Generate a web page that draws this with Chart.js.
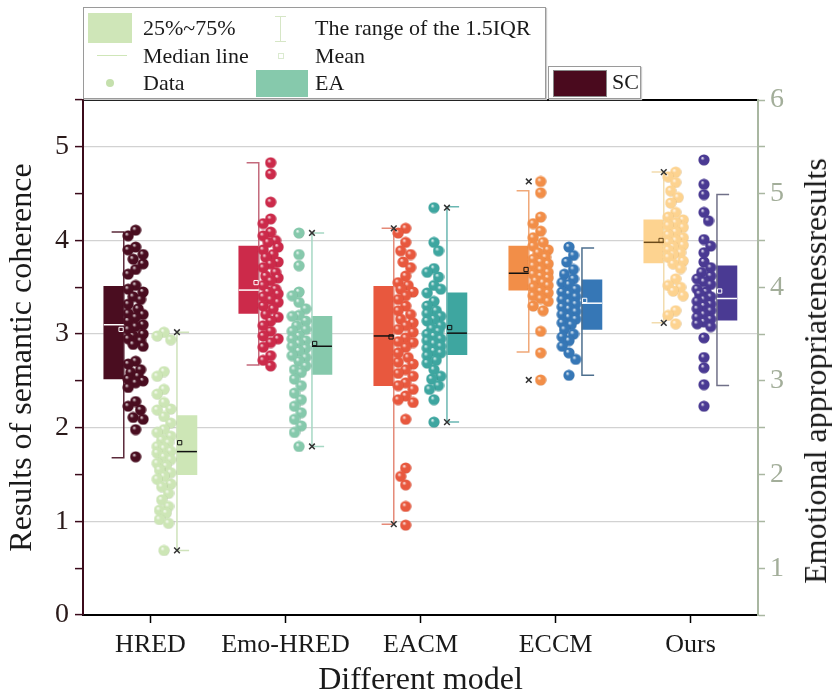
<!DOCTYPE html>
<html><head><meta charset="utf-8">
<script src="https://cdn.jsdelivr.net/npm/chart.js@4.4.0/dist/chart.umd.min.js"></script>
<style>
body{margin:0;background:#fff;}
#wrap{position:relative;width:832px;height:697px;font-family:"Liberation Serif","Times New Roman",serif;overflow:hidden;}
#c{position:absolute;left:0;top:0;}
.t{position:absolute;font-size:22px;color:#1a1a1a;line-height:22px;white-space:nowrap;}
.box{position:absolute;border:1px solid #9a9a9a;background:#fff;box-shadow:1px 1px 1px #ccc;}
.sw{position:absolute;}
</style></head>
<body><div id="wrap">
<canvas id="c" width="832" height="697"></canvas>
<div class="box" style="left:83px;top:7px;width:461px;height:90px;"></div>
<div class="sw" style="left:88px;top:13px;width:44px;height:30px;background:#cfe6b8;"></div>
<div class="t" style="left:143px;top:17px;">25%~75%</div>
<div class="sw" style="left:280px;top:16px;width:1px;height:26px;background:#d6e6c6;"></div>
<div class="sw" style="left:275px;top:16px;width:11px;height:1px;background:#d6e6c6;"></div>
<div class="sw" style="left:275px;top:41px;width:11px;height:1px;background:#d6e6c6;"></div>
<div class="t" style="left:315px;top:17px;">The range of the 1.5IQR</div>
<div class="sw" style="left:97px;top:55px;width:30px;height:1px;background:#cfe6b8;"></div>
<div class="t" style="left:143px;top:45px;">Median line</div>
<div class="sw" style="left:278px;top:53px;width:4px;height:4px;border:1px solid #dbead0;"></div>
<div class="t" style="left:315px;top:45px;">Mean</div>
<div class="sw" style="left:106px;top:79px;width:8px;height:8px;border-radius:50%;background:#c5e0ad;"></div>
<div class="t" style="left:143px;top:72px;">Data</div>
<div class="sw" style="left:256px;top:70px;width:52px;height:27px;background:#86c9ac;"></div>
<div class="t" style="left:315px;top:72px;">EA</div>
<div class="box" style="left:548px;top:66px;width:91px;height:31px;"></div>
<div class="sw" style="left:553px;top:70px;width:52px;height:25px;background:#4a0a1e;border:1px solid #888;"></div>
<div class="t" style="left:612px;top:71px;">SC</div>
<div class="t" id="rtitle" style="left:815px;top:371px;font-size:32px;line-height:32px;transform:translate(-50%,-50%) rotate(-90deg);">Emotional appropriatenessresults</div>
</div>
<script>
// ---------- data ----------
const categories = ['HRED', 'Emo-HRED', 'EACM', 'ECCM', 'Ours'];

// semantic coherence (left axis) box statistics
const scQ1     = [2.52, 3.22, 2.45, 3.47, 3.76];
const scMedian = [3.10, 3.47, 2.98, 3.65, 3.98];
const scQ3     = [3.51, 3.94, 3.51, 3.94, 4.22];
const scLow    = [1.68, 2.67, 0.97, 2.81, 3.12];
const scHigh   = [4.09, 4.83, 4.13, 4.53, 4.73];
const scMean   = [3.05, 3.55, 2.97, 3.69, 4.00];
const scMinMark = [null, null, 0.97, 2.51, 3.12];
const scMaxMark = [null, null, 4.13, 4.63, 4.73];

// emotional appropriateness (right axis) box statistics
const eaQ1     = [2.00, 3.07, 3.28, 3.55, 3.65];
const eaMedian = [2.245, 3.37, 3.51, 3.83, 3.88];
const eaQ3     = [2.63, 3.69, 3.94, 4.08, 4.23];
const eaLow    = [1.19, 2.30, 2.56, 3.06, 2.95];
const eaHigh   = [3.52, 4.58, 4.86, 4.42, 4.99];
const eaMean   = [2.34, 3.40, 3.57, 3.86, 3.96];
const eaMinMark = [1.19, 2.30, 2.56, null, null];
const eaMaxMark = [3.52, 4.58, 4.85, null, null];

// raw data points
const scHRED = [4.11,4.05,3.93,3.90,3.85,3.80,3.75,3.69,3.64,3.52,3.48,3.45,3.40,3.37,3.32,3.27,3.22,3.21,3.18,3.14,3.10,3.08,3.05,3.00,2.98,2.95,2.93,2.89,2.87,2.71,2.68,2.62,2.59,2.55,2.52,2.50,2.48,2.43,2.28,2.23,2.19,2.11,2.09,1.98,1.69];
const scEmo  = [4.83,4.71,4.41,4.23,4.18,4.09,4.05,4.00,3.98,3.93,3.90,3.85,3.82,3.77,3.75,3.71,3.66,3.62,3.60,3.57,3.52,3.48,3.45,3.43,3.40,3.37,3.34,3.30,3.27,3.21,3.18,3.14,3.09,3.03,2.98,2.95,2.91,2.86,2.77,2.72,2.66];
const scEACM = [4.13,4.08,3.98,3.89,3.85,3.77,3.71,3.62,3.55,3.52,3.48,3.45,3.41,3.37,3.30,3.25,3.21,3.16,3.12,3.09,3.05,3.02,2.96,2.92,2.91,2.86,2.80,2.75,2.70,2.68,2.62,2.58,2.55,2.48,2.45,2.41,2.34,2.30,2.27,2.09,1.57,1.48,1.39,1.16,0.96];
const scECCM = [4.63,4.51,4.25,4.18,4.10,4.03,3.98,3.94,3.90,3.87,3.82,3.80,3.77,3.75,3.73,3.69,3.66,3.64,3.62,3.60,3.57,3.55,3.52,3.50,3.46,3.44,3.41,3.38,3.35,3.30,3.25,3.03,2.80,2.51];
const scOurs = [4.73,4.68,4.62,4.53,4.46,4.40,4.30,4.25,4.22,4.19,4.16,4.14,4.09,4.06,4.03,4.00,3.98,3.95,3.93,3.90,3.87,3.85,3.82,3.78,3.75,3.70,3.59,3.52,3.50,3.46,3.41,3.25,3.20,3.11];

const eaHRED = [3.52,3.48,3.44,3.10,3.05,2.91,2.86,2.77,2.70,2.69,2.62,2.55,2.48,2.45,2.41,2.37,2.34,2.30,2.28,2.25,2.23,2.19,2.16,2.12,2.09,2.05,2.02,1.98,1.95,1.90,1.87,1.80,1.73,1.66,1.62,1.59,1.52,1.48,1.19];
const eaEmo  = [4.58,4.35,4.23,3.95,3.91,3.84,3.77,3.70,3.69,3.64,3.59,3.55,3.53,3.48,3.45,3.43,3.40,3.37,3.35,3.32,3.27,3.25,3.21,3.16,3.12,3.09,3.02,2.95,2.87,2.80,2.73,2.66,2.59,2.52,2.45,2.30];
const eaEACM = [4.85,4.48,4.39,4.20,4.16,4.11,4.02,3.98,3.94,3.85,3.80,3.75,3.72,3.69,3.66,3.64,3.59,3.56,3.53,3.50,3.48,3.45,3.43,3.40,3.37,3.35,3.32,3.30,3.27,3.22,3.19,3.12,3.05,3.02,2.95,2.91,2.80,2.56];
const eaECCM = [4.43,4.34,4.27,4.19,4.14,4.09,4.05,4.03,3.98,3.95,3.93,3.90,3.87,3.84,3.82,3.79,3.77,3.74,3.71,3.68,3.66,3.62,3.60,3.55,3.50,3.47,3.43,3.37,3.30,3.23,3.06];
const eaOurs = [5.36,5.10,4.99,4.80,4.71,4.51,4.44,4.37,4.27,4.21,4.16,4.12,4.09,4.06,4.03,3.98,3.95,3.93,3.90,3.87,3.85,3.82,3.80,3.77,3.75,3.71,3.68,3.66,3.63,3.61,3.58,3.46,3.25,3.14,2.96,2.73];

const scPoints = [scHRED, scEmo, scEACM, scECCM, scOurs];
const eaPoints = [eaHRED, eaEmo, eaEACM, eaECCM, eaOurs];

// ---------- styles ----------
const scColors = ['#4a0d20', '#cc2a4a', '#e8583e', '#f28e48', '#fdd390'];
const eaColors = ['#cde6b6', '#86c9ac', '#3ea6a0', '#3677b6', '#4a3a93'];
const scWhisk  = ['#5b2a3a', '#c46a7c', '#e58a78', '#f0a878', '#f2dcae'];
const eaWhisk  = ['#cfe3bb', '#a6d8c4', '#6ab7b2', '#4d6f8e', '#707088'];
const scMedCol = ['#ffffff', '#ffffff', '#111111', '#111111', '#6b4a1a'];
const eaMedCol = ['#111111', '#111111', '#111111', '#ffffff', '#ffffff'];
const SC_BOX = -0.272, EA_BOX = 0.27, HALF_BOX = 0.074, CAP = 0.09;
const SC_WH = SC_BOX + HALF_BOX, EA_WH = EA_BOX - HALF_BOX;
const FONT = '"Liberation Serif", "Times New Roman", serif';

function hexRgb(h){h=h.replace('#','');return [0,2,4].map(i=>parseInt(h.substr(i,2),16));}
function mix(h, t, f){const a=hexRgb(h);return 'rgb('+a.map(v=>Math.round(v+(t-v)*f)).join(',')+')';}
function sphere(color){
  const s=12,c=document.createElement('canvas');c.width=c.height=s;
  const g=c.getContext('2d');
  const gr=g.createRadialGradient(4.3,4.0,0.3,6,6,6.2);
  gr.addColorStop(0,mix(color,255,0.85));
  gr.addColorStop(0.3,color);
  gr.addColorStop(0.85,color);
  gr.addColorStop(1,mix(color,0,0.3));
  g.fillStyle=gr;g.beginPath();g.arc(6,6,5.6,0,Math.PI*2);g.fill();
  return c;
}
// deterministic swarm placement (positions only)
function swarm(values, i, lo, hi){
  const n=7,cands=[];
  for(let k=0;k<n;k++)cands.push(lo+(hi-lo)*k/(n-1));
  const mid=(lo+hi)/2;
  cands.sort((a,b)=>Math.abs(a-mid)-Math.abs(b-mid));
  const placed=[],out=[];
  values.forEach(v=>{
    let best=cands[0],bestD=-1;
    for(const c of cands){
      let d=Infinity;
      for(const p of placed){d=Math.min(d,Math.hypot((c-p.x)*135,(v-p.y)*93.6));}
      if(d>=9){best=c;break;}
      if(d>bestD){bestD=d;best=c;}
    }
    placed.push({x:best,y:v});out.push({x:i+best,y:v});
  });
  return out;
}

const datasets=[];
// boxes
datasets.push({type:'bar',yAxisID:'y',xAxisID:'x',order:10,grouped:false,barThickness:20,borderWidth:0,
  backgroundColor:scColors,data:categories.map((c,i)=>({x:i+SC_BOX,y:[scQ1[i],scQ3[i]]}))});
datasets.push({type:'bar',yAxisID:'yR',xAxisID:'x',order:10,grouped:false,barThickness:20,borderWidth:0,
  backgroundColor:eaColors,data:categories.map((c,i)=>({x:i+EA_BOX,y:[eaQ1[i],eaQ3[i]]}))});
categories.forEach((c,i)=>{
  // whiskers
  datasets.push({type:'line',yAxisID:'y',xAxisID:'x',order:8,borderColor:scWhisk[i],borderWidth:1.5,pointRadius:0,fill:false,tension:0,
    data:[{x:i+SC_WH-CAP,y:scHigh[i]},{x:i+SC_WH,y:scHigh[i]},{x:i+SC_WH,y:scLow[i]},{x:i+SC_WH-CAP,y:scLow[i]}]});
  datasets.push({type:'line',yAxisID:'yR',xAxisID:'x',order:8,borderColor:eaWhisk[i],borderWidth:1.5,pointRadius:0,fill:false,tension:0,
    data:[{x:i+EA_WH+CAP,y:eaHigh[i]},{x:i+EA_WH,y:eaHigh[i]},{x:i+EA_WH,y:eaLow[i]},{x:i+EA_WH+CAP,y:eaLow[i]}]});
  // medians
  datasets.push({type:'line',yAxisID:'y',xAxisID:'x',order:2,borderColor:scMedCol[i],borderWidth:1.5,pointRadius:0,
    data:[{x:i+SC_BOX-HALF_BOX,y:scMedian[i]},{x:i+SC_BOX+HALF_BOX,y:scMedian[i]}]});
  datasets.push({type:'line',yAxisID:'yR',xAxisID:'x',order:2,borderColor:eaMedCol[i],borderWidth:1.5,pointRadius:0,
    data:[{x:i+EA_BOX-HALF_BOX,y:eaMedian[i]},{x:i+EA_BOX+HALF_BOX,y:eaMedian[i]}]});
  // means
  datasets.push({type:'scatter',yAxisID:'y',xAxisID:'x',order:1,pointStyle:'rect',pointRadius:3,backgroundColor:'rgba(0,0,0,0)',
    borderColor:scMedCol[i],borderWidth:1,data:[{x:i+SC_WH-0.02,y:scMean[i]}]});
  datasets.push({type:'scatter',yAxisID:'yR',xAxisID:'x',order:1,pointStyle:'rect',pointRadius:3,backgroundColor:'rgba(0,0,0,0)',
    borderColor:eaMedCol[i],borderWidth:1,data:[{x:i+EA_WH+0.02,y:eaMean[i]}]});
  // data points
  datasets.push({type:'scatter',yAxisID:'y',xAxisID:'x',order:5,pointStyle:sphere(scColors[i]),pointRadius:6,
    data:swarm(scPoints[i],i,-0.165,-0.055)});
  datasets.push({type:'scatter',yAxisID:'yR',xAxisID:'x',order:5,pointStyle:sphere(eaColors[i]),pointRadius:6,
    data:swarm(eaPoints[i],i,0.05,0.15)});
});
// min / max markers
const scMarks=[],eaMarks=[];
categories.forEach((c,i)=>{
  if(scMinMark[i]!==null)scMarks.push({x:i+SC_WH,y:scMinMark[i]});
  if(scMaxMark[i]!==null)scMarks.push({x:i+SC_WH,y:scMaxMark[i]});
  if(eaMinMark[i]!==null)eaMarks.push({x:i+EA_WH,y:eaMinMark[i]});
  if(eaMaxMark[i]!==null)eaMarks.push({x:i+EA_WH,y:eaMaxMark[i]});
});
datasets.push({type:'scatter',yAxisID:'y',xAxisID:'x',order:0,pointStyle:'crossRot',pointRadius:4,borderColor:'#333',borderWidth:1.5,data:scMarks});
datasets.push({type:'scatter',yAxisID:'yR',xAxisID:'x',order:0,pointStyle:'crossRot',pointRadius:4,borderColor:'#333',borderWidth:1.5,data:eaMarks});

new Chart(document.getElementById('c'),{
  type:'bar',
  data:{datasets},
  options:{
    responsive:false,animation:false,devicePixelRatio:1,events:[],
    layout:{padding:{top:100,left:0,right:0,bottom:0}},
    plugins:{legend:{display:false},tooltip:{enabled:false}},
    scales:{
      x:{type:'linear',position:'bottom',min:-0.5,max:4.5,offset:false,
        afterBuildTicks:s=>{s.ticks=categories.map((c,i)=>({value:i}));},
        afterFit:s=>{s.height=82;},
        ticks:{callback:v=>categories[v],font:{family:FONT,size:26},color:'#1a1a1a',padding:7,maxRotation:0,autoSkip:false},
        grid:{offset:false,drawOnChartArea:false,tickLength:8,tickColor:'#000',tickWidth:1.5},
        border:{color:'#000',width:2},
        title:{display:true,text:'Different model',font:{family:FONT,size:32,lineHeight:1.05},color:'#1a1a1a',padding:{top:0,bottom:0}}},
      x2:{type:'linear',position:'top',min:-0.5,max:4.5,offset:false,
        afterFit:s=>{s.height=0;},
        ticks:{display:false},grid:{offset:false,drawOnChartArea:false,drawTicks:false},
        border:{color:'#000',width:2}},
      y:{type:'linear',position:'left',min:0,max:5.5,
        afterFit:s=>{s.width=83;},
        ticks:{stepSize:0.5,callback:v=>(Number.isInteger(v)?v:''),font:{family:FONT,size:28},color:'#2a1a1a',padding:6},
        grid:{color:ctx=>(ctx.tick&&Number.isInteger(ctx.tick.value)&&ctx.tick.value>0)?'#d2d2d2':'rgba(0,0,0,0)',
          lineWidth:1.2,tickLength:8,tickColor:'#3b0b1b',tickWidth:1.5},
        border:{color:'#3b0b1b',width:2},
        title:{display:true,text:'Results of semantic coherence',font:{family:FONT,size:32},color:'#1a1a1a',padding:{top:3,bottom:0}}},
      yR:{type:'linear',position:'right',min:0.5,max:6,
        afterFit:s=>{s.width=74;},
        ticks:{stepSize:0.5,callback:v=>(Number.isInteger(v)?v:''),font:{family:FONT,size:28},color:'#a3ae9a',padding:5},
        grid:{drawOnChartArea:false,tickLength:7,tickColor:'#a9b7a1',tickWidth:1.5},
        border:{color:'#a9b7a1',width:2}}
    }
  }
});
</script>
</body></html>
